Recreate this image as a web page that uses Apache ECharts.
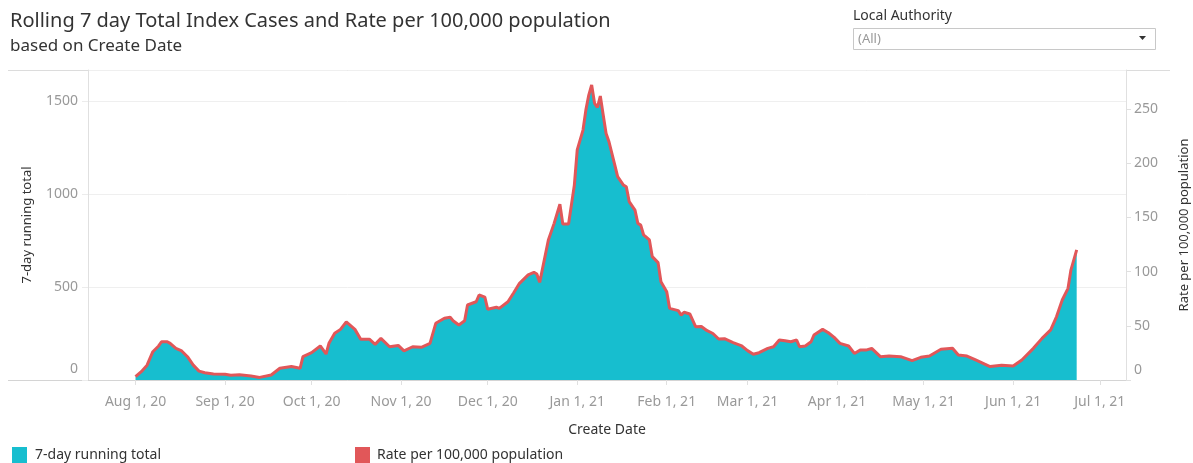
<!DOCTYPE html>
<html><head><meta charset="utf-8">
<script src="https://cdn.jsdelivr.net/npm/echarts@6/dist/echarts.min.js"></script>
<style>html,body{margin:0;padding:0;background:#fff}#c{width:1193px;height:463px}</style>
</head><body><div id="c"></div>
<script>
const dates = ['2020-08-01','2020-08-03','2020-08-05','2020-08-07','2020-08-09','2020-08-10','2020-08-12','2020-08-13','2020-08-15','2020-08-17','2020-08-19','2020-08-21','2020-08-23','2020-08-25','2020-08-28',
'2020-09-01','2020-09-03','2020-09-06','2020-09-10','2020-09-13','2020-09-17','2020-09-20','2020-09-24','2020-09-27','2020-09-28',
'2020-10-01','2020-10-04','2020-10-06','2020-10-07','2020-10-09','2020-10-11','2020-10-13','2020-10-16','2020-10-18','2020-10-21','2020-10-23','2020-10-25','2020-10-28','2020-10-31',
'2020-11-02','2020-11-05','2020-11-08','2020-11-11','2020-11-13','2020-11-16','2020-11-18','2020-11-19','2020-11-21','2020-11-23','2020-11-24','2020-11-27','2020-11-28','2020-11-30',
'2020-12-01','2020-12-04','2020-12-05','2020-12-08','2020-12-10','2020-12-12','2020-12-15','2020-12-17','2020-12-18','2020-12-19','2020-12-20','2020-12-22','2020-12-24','2020-12-26','2020-12-27','2020-12-29','2020-12-31',
'2021-01-01','2021-01-03','2021-01-04','2021-01-05','2021-01-06','2021-01-07','2021-01-08','2021-01-09','2021-01-10','2021-01-11','2021-01-12','2021-01-14','2021-01-15','2021-01-17','2021-01-18','2021-01-19','2021-01-21','2021-01-22','2021-01-23','2021-01-24','2021-01-26','2021-01-27','2021-01-29','2021-01-30',
'2021-02-01','2021-02-02','2021-02-05','2021-02-06','2021-02-07','2021-02-09','2021-02-11','2021-02-13','2021-02-15','2021-02-17','2021-02-19','2021-02-21','2021-02-24','2021-02-27',
'2021-03-01','2021-03-03','2021-03-05','2021-03-08','2021-03-10','2021-03-12','2021-03-14','2021-03-16','2021-03-18','2021-03-19','2021-03-21','2021-03-23','2021-03-24','2021-03-27','2021-03-29','2021-03-31',
'2021-04-02','2021-04-05','2021-04-07','2021-04-09','2021-04-11','2021-04-13','2021-04-16','2021-04-19','2021-04-23','2021-04-27','2021-04-30',
'2021-05-03','2021-05-07','2021-05-11','2021-05-13','2021-05-16','2021-05-19','2021-05-24','2021-05-28',
'2021-06-01','2021-06-04','2021-06-08','2021-06-11','2021-06-14','2021-06-16','2021-06-18','2021-06-20','2021-06-21','2021-06-23'];
const cases = [18,45,80,152,183,206,206,197,170,156,125,80,48,39,32,
31,25,28,21,14,27,63,72,63,125,
147,183,140,197,251,272,313,272,219,219,192,224,179,186,
156,179,176,197,305,332,337,319,296,319,403,421,457,445,
380,391,385,421,469,520,565,579,570,525,600,753,842,945,839,839,1048,
1237,1344,1452,1532,1586,1488,1466,1527,1425,1326,1281,1156,1093,1048,1039,959,914,842,833,780,753,663,631,528,
475,385,373,349,364,355,287,288,265,250,220,222,201,183,
158,138,147,170,179,215,211,206,215,179,183,206,242,272,254,229,
197,183,143,161,161,170,125,129,125,104,122,
129,165,170,134,129,108,72,80,
75,108,170,224,269,340,430,493,591,699];
const rates = [3.1,7.7,13.7,26.1,31.4,35.3,35.3,33.8,29.2,26.8,21.5,13.7,8.2,6.7,5.5,
5.3,4.3,4.8,3.6,2.4,4.6,10.8,12.4,10.8,21.5,
25.2,31.4,24.0,33.8,43.1,46.7,53.7,46.7,37.6,37.6,32.9,38.4,30.7,31.9,
26.8,30.7,30.2,33.8,52.3,57.0,57.8,54.7,50.8,54.7,69.2,72.2,78.4,76.4,
65.2,67.1,66.1,72.2,80.5,89.2,97.0,99.4,97.8,90.1,103.0,129.2,144.5,162.2,144.0,144.0,179.8,
212.3,230.6,249.2,262.9,272.2,255.3,251.6,262.0,244.5,227.5,219.8,198.4,187.6,179.8,178.3,164.6,156.8,144.5,142.9,133.8,129.2,113.8,108.3,90.6,
81.5,66.1,64.0,59.9,62.5,60.9,49.2,49.4,45.5,42.9,37.8,38.1,34.5,31.4,
27.1,23.7,25.2,29.2,30.7,36.9,36.2,35.3,36.9,30.7,31.4,35.3,41.5,46.7,43.6,39.3,
33.8,31.4,24.5,27.6,27.6,29.2,21.5,22.1,21.5,17.8,20.9,
22.1,28.3,29.2,23.0,22.1,18.5,12.4,13.7,
12.9,18.5,29.2,38.4,46.2,58.3,73.8,84.6,101.4,120.0];
const leftTicks = [0,500,1000,1500];
const rightTicks = [0,50,100,150,200,250];
const monthNames = ['Jan','Feb','Mar','Apr','May','Jun','Jul','Aug','Sep','Oct','Nov','Dec'];

const FONT = 'Noto Sans';
const AXC = '#999999';
const casesData = dates.map((d,i)=>[d,cases[i]]);
const ratesData = dates.map((d,i)=>[d,rates[i]]);
const DAY = 86400000;
const xMin = new Date(2020,6,15,13,0).getTime();
const xMax = new Date(2021,6,10,2,0).getTime();

const chart = echarts.init(document.getElementById('c'), null, {renderer:'canvas'});
chart.setOption({
  animation:false,
  textStyle:{fontFamily:FONT},
  title:{text:'Rolling 7 day Total Index Cases and Rate per 100,000 population',subtext:'based on Create Date',
    left:5,top:6,itemGap:7,
    textStyle:{fontFamily:FONT,fontSize:20,fontWeight:'normal',color:'#333'},
    subtextStyle:{fontFamily:FONT,fontSize:17,color:'#333'}},
  legend:[
    {data:['7-day running total'],left:12,top:447,padding:0,icon:'rect',itemWidth:15,itemHeight:16,
     textStyle:{fontFamily:FONT,fontSize:14,color:'#333',padding:[0,0,0,3]}},
    {data:['Rate per 100,000 population'],left:355,top:447,padding:0,icon:'rect',itemWidth:15,itemHeight:16,
     textStyle:{fontFamily:FONT,fontSize:14,color:'#333',padding:[0,0,0,2]}}
  ],
  grid:{left:88,right:67,top:70,bottom:83,containLabel:false,outerBoundsMode:'none'},
  xAxis:{type:'time',min:xMin,max:xMax,splitNumber:12,minInterval:28*DAY,maxInterval:31*DAY,
    name:'Create Date',nameLocation:'middle',nameGap:43,
    nameTextStyle:{fontFamily:FONT,fontSize:14,color:'#333'},
    axisLine:{show:true,lineStyle:{color:'#d4d4d4'}},
    axisTick:{show:true,length:5,lineStyle:{color:'#e0e0e0'}},
    splitLine:{show:false},
    axisLabel:{color:AXC,fontFamily:FONT,fontSize:14,margin:15,showMinLabel:false,showMaxLabel:false,
      formatter:function(v){const d=new Date(v); if(d.getDate()!==1||d.getHours()!==0) return ''; return monthNames[d.getMonth()]+' 1, '+String(d.getFullYear()).slice(2);}}
  },
  yAxis:[
    {type:'value',min:0,max:1667,interval:500,position:'left',
     name:'7-day running total',nameLocation:'middle',nameGap:54,nameRotate:90,
     nameTextStyle:{fontFamily:FONT,fontSize:13,color:'#333'},
     axisLine:{show:true,lineStyle:{color:'#e0e0e0'}},
     axisTick:{show:true,length:6,lineStyle:{color:'#ececec'}},
     splitLine:{show:true,lineStyle:{color:'#efefef'}},
     axisLabel:{color:AXC,fontFamily:FONT,fontSize:14,margin:10,showMaxLabel:false,
       formatter:function(v){ if(v===0) return '{z|0}'; return leftTicks.indexOf(v)>=0?String(v):''; },
       rich:{z:{color:AXC,fontFamily:FONT,fontSize:14,padding:[0,0,22,0]}}}
    },
    {type:'value',min:0,max:286,interval:50,position:'right',
     name:'Rate per 100,000 population',nameLocation:'middle',nameGap:52,nameRotate:90,
     nameTextStyle:{fontFamily:FONT,fontSize:13,color:'#333'},
     axisLine:{show:true,lineStyle:{color:'#e0e0e0'}},
     axisTick:{show:true,length:5,lineStyle:{color:'#e0e0e0'}},
     splitLine:{show:false},
     axisLabel:{color:AXC,fontFamily:FONT,fontSize:14,margin:8,showMaxLabel:false,
       formatter:function(v){ if(v===0) return '{z|0}'; return rightTicks.indexOf(v)>=0?String(v):''; },
       rich:{z:{color:AXC,fontFamily:FONT,fontSize:14,padding:[0,0,20,0]}}}
    }
  ],
  series:[
    {name:'7-day running total',type:'line',yAxisIndex:0,data:casesData,symbol:'none',
     color:'#17becf',lineStyle:{width:0,color:'#17becf'},areaStyle:{color:'#17becf',opacity:1},z:2},
    {name:'Rate per 100,000 population',type:'line',yAxisIndex:1,data:ratesData,symbol:'none',
     color:'#e15759',lineStyle:{width:3,color:'#e15759'},z:3}
  ],
  graphic:[
    {type:'line',shape:{x1:8,y1:70.5,x2:1170,y2:70.5},style:{stroke:'#dcdcdc',lineWidth:1},silent:true},
    {type:'line',shape:{x1:8,y1:380.5,x2:88,y2:380.5},style:{stroke:'#d4d4d4',lineWidth:1},silent:true},
    {type:'text',left:853,top:9,style:{text:'Local Authority',fontFamily:FONT,fontSize:14,fill:'#333'}},
    {type:'rect',shape:{x:853.5,y:28.5,width:302,height:21},style:{fill:'#fff',stroke:'#c8c8c8',lineWidth:1}},
    {type:'text',left:858,top:33,style:{text:'(All)',fontFamily:FONT,fontSize:13,fill:'#999'}},
    {type:'polygon',shape:{points:[[1139,36],[1146,36],[1142.5,40]]},style:{fill:'#333'}}
  ]
});
</script></body></html>
